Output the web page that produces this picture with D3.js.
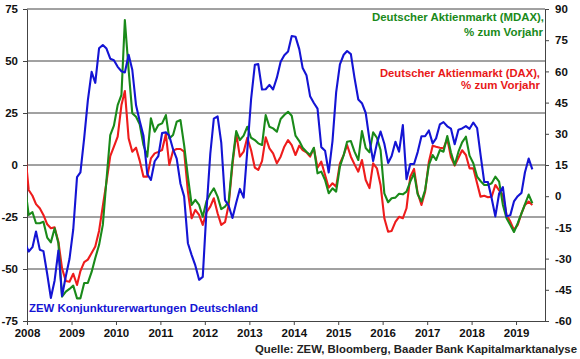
<!DOCTYPE html>
<html>
<head>
<meta charset="utf-8">
<script src="https://cdn.jsdelivr.net/npm/d3@7"></script>
<style>
  body { margin: 0; background: #fff; }
  svg { display: block; font-family: "Liberation Sans", Arial, sans-serif; font-weight: bold; }
</style>
</head>
<body>
<div id="chart"></div>
<script>
// monthly values, Dec 2007 .. May 2019 (mid-month)
const startMonth = new Date(2007, 11, 15);

// ZEW Konjunkturerwartungen (left axis)
const zew = [-37.2,
  -41.6, -39.5, -32.0, -40.7, -41.4, -52.4, -63.9, -55.5, -41.1, -63.0, -53.5, -45.2,
  -31.0, -5.8, -3.5, 13.0, 31.1, 44.8, 39.5, 56.1, 57.7, 56.0, 51.1, 50.4,
  47.2, 45.1, 44.5, 53.0, 45.8, 28.7, 21.2, 14.0, -4.3, -7.2, 1.8, 4.3,
  15.4, 15.7, 14.1, 7.6, 3.1, -9.0, -15.1, -37.6, -43.3, -48.3, -55.2, -53.8,
  -21.6, 5.4, 22.3, 23.4, 10.8, -16.9, -19.6, -25.5, -18.2, -11.5, -15.7, 6.9,
  31.5, 48.2, 48.5, 36.3, 36.4, 38.5, 36.3, 42.0, 49.6, 52.8, 54.6, 62.0,
  61.7, 55.7, 46.6, 43.2, 33.1, 29.8, 27.1, 8.6, 6.9, -3.6, 11.5, 34.9,
  48.4, 53.0, 54.8, 53.3, 41.9, 31.5, 29.7, 25.0, 12.1, 1.9, 10.4, 16.1,
  10.2, 1.0, 4.3, 11.2, 6.4, 19.2, -6.8, 0.5, 0.5, 6.2, 13.8, 13.8,
  16.6, 10.4, 12.8, 19.5, 20.6, 18.6, 17.5, 10.0, 17.0, 17.6, 18.7, 17.4,
  20.4, 17.8, 5.1, -8.2, -8.2, -16.1, -24.7, -13.7, -10.6, -24.7, -24.1, -17.5,
  -15.0, -13.4, -3.6, 3.1, -2.1];

// DAX, % zum Vorjahr (right axis)
const dax = [22,
  3.0, 0.2, -3.8, -5.8, -9.0, -13.5, -15.4, -15.0, -21.9, -34.7, -40.8, -41.1,
  -37.3, -42.7, -36.0, -31.7, -30.5, -27.3, -24.2, -16.7, -4.7, 6.8, 19.3, 23.8,
  28.6, 43.8, 50.6, 27.8, 21.4, 23.3, 17.1, 9.4, 9.4, 18.2, 20.6, 21.3,
  22.2, 29.9, 15.0, 21.9, 22.7, 22.7, 21.4, 2.2, -10.6, -6.6, -9.0, -13.8,
  -7.7, -5.0, -1.0, -8.2, -13.8, -12.5, -4.2, 15.0, 30.2, 19.0, 21.4, 28.1,
  22.2, 13.7, 12.6, 16.9, 28.3, 23.0, 20.6, 15.8, 19.0, 23.8, 27.0, 24.6,
  19.8, 24.3, 22.2, 21.1, 19.0, 23.0, 13.7, 16.6, 10.2, 4.1, 6.2, 4.6,
  15.8, 19.8, 24.6, 19.0, 15.3, 11.8, 17.4, 7.8, 3.9, 15.8, 13.4, 5.4,
  -10.6, -17.1, -16.7, -12.3, -9.9, -10.6, -5.8, 9.4, 13.1, 1.4, -4.2, 2.2,
  16.6, 24.3, 23.8, 23.3, 23.0, 27.6, 18.8, 14.7, 18.5, 22.1, 19.8, 13.4,
  13.4, 6.2, -0.2, 0.2, -0.5, -0.2, 5.4, 2.8, 0.6, -9.0, -12.2, -16.2,
  -13.8, -8.2, -4.2, -2.6, -4.2];

// MDAX, % zum Vorjahr (right axis)
const mdax = [5,
  -9.0, -7.7, -13.0, -13.0, -12.3, -19.9, -22.2, -15.4, -22.6, -48.3, -45.9, -44.6,
  -43.0, -49.1, -49.1, -41.7, -41.7, -36.4, -29.7, -23.5, -13.8, 7.8, 29.4, 33.9,
  43.8, 48.7, 84.7, 60.7, 39.9, 38.2, 34.6, 24.6, 19.0, 37.5, 31.0, 34.2,
  35.0, 39.0, 27.8, 29.4, 35.8, 36.6, 24.6, 9.4, -4.2, -1.8, -4.2, -9.9,
  -2.3, 1.2, 3.8, -0.2, -6.2, -5.0, -2.6, 16.6, 31.3, 27.0, 29.1, 33.4,
  28.1, 27.0, 25.4, 24.6, 39.0, 33.4, 32.6, 31.0, 37.1, 39.0, 40.6, 38.7,
  29.1, 26.5, 23.3, 21.4, 19.8, 23.3, 11.0, 11.8, 7.8, 1.4, 3.8, 2.2,
  14.2, 19.8, 26.2, 26.5, 21.4, 17.4, 31.3, 23.2, 21.1, 30.7, 28.1, 22.2,
  1.4, -2.9, -1.0, -0.7, 1.2, 0.9, 2.2, 7.0, 11.0, 0.9, -2.6, 3.0,
  15.0, 19.8, 17.4, 22.2, 21.4, 28.9, 21.1, 15.0, 21.4, 25.9, 28.6, 19.5,
  15.8, 9.4, 7.3, 5.4, 5.4, 6.2, 9.4, 7.0, -4.2, -10.6, -13.8, -17.2,
  -13.0, -8.2, -3.9, 0.8, -3.4];

const years = [2008, 2009, 2010, 2011, 2012, 2013, 2014, 2015, 2016, 2017, 2018, 2019];
const leftTicks = [-75, -50, -25, 0, 25, 50, 75];
const rightTicks = [-60, -45, -30, -15, 0, 15, 30, 45, 60, 75, 90];

const width = 580, height = 359;
const margin = { left: 27, right: 545, top: 9, bottom: 321 };
const fontSize = "11.5px";
const axisColor = "#444";

const svg = d3.select("#chart").append("svg")
  .attr("width", width)
  .attr("height", height);

const x = d3.scaleTime()
  .domain([new Date(2008, 0, 1), new Date(2019, 7, 27)])
  .range([margin.left, margin.right]);
const yL = d3.scaleLinear().domain([-75, 75]).range([margin.bottom, margin.top]);
const yR = d3.scaleLinear().domain([-60, 90]).range([margin.bottom, margin.top]);

const dateAt = i => d3.timeMonth.offset(startMonth, i);
const plainNum = d => String(d); // hyphen minus, like the original

// gridlines
svg.append("g")
  .selectAll("line")
  .data(leftTicks.filter(d => d > -75))
  .enter()
  .append("line")
  .attr("x1", margin.left).attr("x2", margin.right)
  .attr("y1", d => yL(d)).attr("y2", d => yL(d))
  .attr("stroke", axisColor)
  .attr("stroke-width", 1);

// axes
function styleAxis(g) {
  g.selectAll("path.domain").attr("stroke", axisColor);
  g.selectAll(".tick line").attr("stroke", axisColor);
  g.selectAll("text")
    .attr("fill", "#111")
    .style("font-size", fontSize)
    .style("font-weight", "bold")
    .style("font-family", "'Liberation Sans', Arial, sans-serif");
}

svg.append("g")
  .attr("transform", "translate(" + margin.left + ",0)")
  .call(d3.axisLeft(yL).tickValues(leftTicks).tickFormat(plainNum)
    .tickSize(4).tickSizeOuter(0).tickPadding(5))
  .call(styleAxis);

svg.append("g")
  .attr("transform", "translate(" + margin.right + ",0)")
  .call(d3.axisRight(yR).tickValues(rightTicks).tickFormat(plainNum)
    .tickSize(4).tickSizeOuter(0).tickPadding(6))
  .call(styleAxis);

svg.append("g")
  .attr("transform", "translate(0," + margin.bottom + ")")
  .call(d3.axisBottom(x)
    .tickValues(years.map(y => new Date(y, 0, 1)))
    .tickFormat(d3.timeFormat("%Y"))
    .tickSize(4).tickSizeOuter(0).tickPadding(4))
  .call(styleAxis);

// series
svg.append("clipPath").attr("id", "plot")
  .append("rect")
  .attr("x", margin.left).attr("y", margin.top)
  .attr("width", margin.right - margin.left).attr("height", margin.bottom - margin.top);

const plot = svg.append("g").attr("clip-path", "url(#plot)");

const series = [
  { values: dax, scale: yR, color: "#ee1c1c" },
  { values: mdax, scale: yR, color: "#1a8a1a" },
  { values: zew, scale: yL, color: "#1414d4" }
];

series.forEach(s => {
  const line = d3.line()
    .x((d, i) => x(dateAt(i)))
    .y(d => s.scale(d));
  plot.append("path")
    .datum(s.values)
    .attr("d", line)
    .attr("fill", "none")
    .attr("stroke", s.color)
    .attr("stroke-width", 2.1)
    .attr("stroke-linejoin", "round");
});

// labels
function label(txt, xPos, yPos, color, anchor, len) {
  const t = svg.append("text")
    .attr("x", xPos).attr("y", yPos)
    .attr("fill", color)
    .attr("text-anchor", anchor)
    .style("font-size", fontSize)
    .text(txt);
  if (len) t.attr("textLength", len).attr("lengthAdjust", "spacingAndGlyphs");
  return t;
}

label("Deutscher Aktienmarkt (MDAX),", 544, 20.5, "#1a8a1a", "end", 172);
label("% zum Vorjahr", 543, 35.5, "#1a8a1a", "end");
label("Deutscher Aktienmarkt (DAX),", 540, 76.5, "#e81818", "end", 160);
label("% zum Vorjahr", 540, 88.5, "#e81818", "end");
label("ZEW Konjunkturerwartungen Deutschland", 29, 311.5, "#1414d4", "start", 229);
label("Quelle: ZEW, Bloomberg, Baader Bank Kapitalmarktanalyse", 577, 352.5, "#222", "end", 322);
</script>
</body>
</html>
